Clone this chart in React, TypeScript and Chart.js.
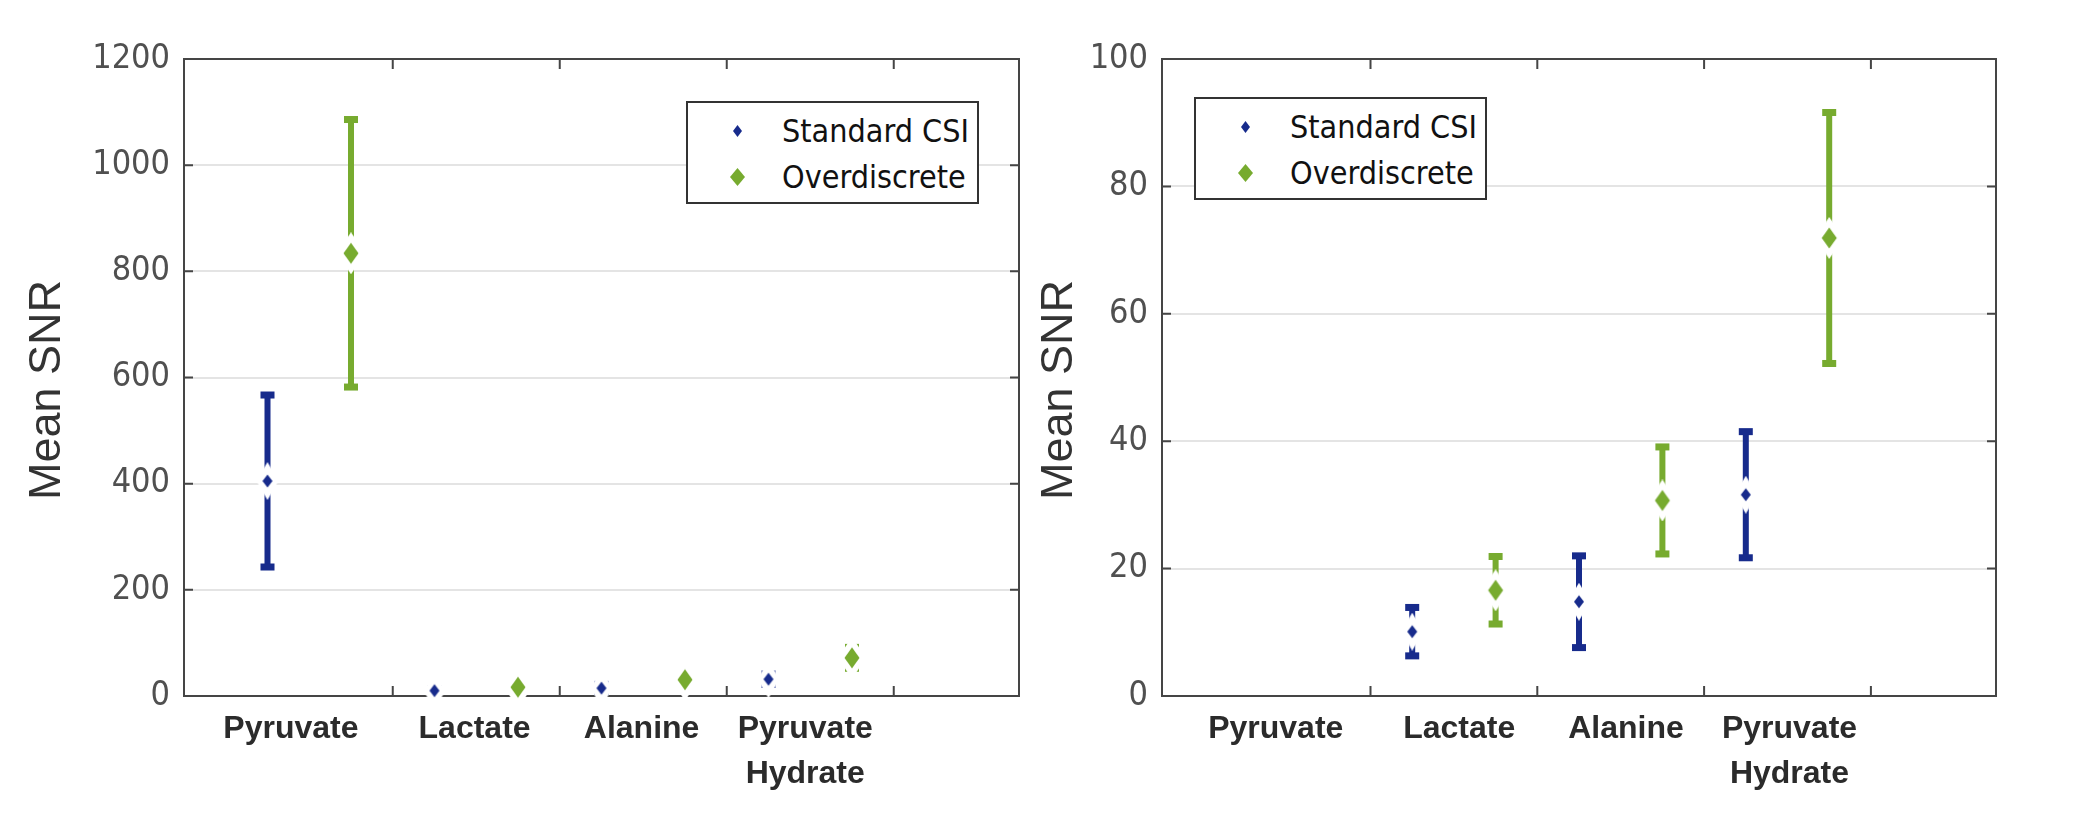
import React, { useEffect, useRef } from 'react';
import { Chart, registerables } from 'chart.js';

Chart.register(...registerables);

// ---------- data ----------
const CATEGORIES: string[][] = [['Pyruvate'], ['Lactate'], ['Alanine'], ['Pyruvate', 'Hydrate']];
const SERIES_NAMES = ['Standard CSI', 'Overdiscrete'];
const STD_X = [0.5, 1.5, 2.5, 3.5];
const STD_MEAN = [405, 10.1, 14.8, 31.6];
const STD_SD = [162, 3.8, 7.2, 9.9];
const OVD_X = [1, 2, 3, 4];
const OVD_MEAN = [834, 16.6, 30.7, 71.9];
const OVD_SD = [252, 5.3, 8.4, 19.7];
const CATEGORY_TICKS = [1.25, 2.25, 3.25, 4.25];
const LABEL_X = [0.64, 1.74, 2.74, 3.72];
const LEFT_Y_TICKS = [0, 200, 400, 600, 800, 1000, 1200];
const RIGHT_Y_TICKS = [0, 20, 40, 60, 80, 100];

// ---------- style ----------
const BLUE = '#172b8c';
const GREEN = '#77ab2f';
const NARROW = "'DejaVu Sans Condensed', 'Liberation Sans Narrow', 'Liberation Sans', sans-serif";
const SANS = "'Liberation Sans', Arial, sans-serif";

function makeDiamond(inW: number, inH: number, haloW: number, haloH: number, color: string) {
  const c = document.createElement('canvas');
  c.width = haloW;
  c.height = haloH;
  const g = c.getContext('2d')!;
  const cx = haloW / 2;
  const cy = haloH / 2;
  g.fillStyle = '#ffffff';
  g.beginPath();
  g.moveTo(cx, 0);
  g.lineTo(haloW, cy);
  g.lineTo(cx, haloH);
  g.lineTo(0, cy);
  g.closePath();
  g.fill();
  g.fillStyle = color;
  g.beginPath();
  g.moveTo(cx, cy - inH / 2);
  g.lineTo(cx + inW / 2, cy);
  g.lineTo(cx, cy + inH / 2);
  g.lineTo(cx - inW / 2, cy);
  g.closePath();
  g.fill();
  return c;
}

const framePlugin = {
  id: 'frameTicks',
  beforeDatasetsDraw(chart: any) {
    const { ctx, chartArea: a, scales } = chart;
    const x = scales.x;
    const y = scales.y;
    ctx.save();
    ctx.strokeStyle = '#454545';
    ctx.lineWidth = 2;
    ctx.strokeRect(a.left, a.top, a.right - a.left, a.bottom - a.top);
    ctx.beginPath();
    y.ticks.forEach((t: any) => {
      const py = y.getPixelForValue(t.value);
      ctx.moveTo(a.left, py);
      ctx.lineTo(a.left + 9, py);
      ctx.moveTo(a.right, py);
      ctx.lineTo(a.right - 9, py);
    });
    CATEGORY_TICKS.forEach((v) => {
      const px = x.getPixelForValue(v);
      ctx.moveTo(px, a.bottom);
      ctx.lineTo(px, a.bottom - 10);
      ctx.moveTo(px, a.top);
      ctx.lineTo(px, a.top + 10);
    });
    ctx.stroke();
    ctx.restore();
  },
};

const errorBarPlugin = {
  id: 'errorBars',
  beforeDatasetsDraw(chart: any) {
    const { ctx, chartArea: a, scales } = chart;
    const x = scales.x;
    const y = scales.y;
    ctx.save();
    ctx.beginPath();
    ctx.rect(a.left, a.top, a.right - a.left, a.bottom - a.top + 30);
    ctx.clip();
    chart.data.datasets.forEach((ds: any) => {
      const sd: number[] = ds.sd;
      ds.data.forEach((p: any, i: number) => {
        const px = x.getPixelForValue(p.x);
        const yHi = y.getPixelForValue(p.y + sd[i]);
        const yLo = y.getPixelForValue(p.y - sd[i]);
        ctx.fillStyle = ds.errColor;
        ctx.fillRect(px - 3, yHi, 6, yLo - yHi);
        ctx.fillRect(px - 7, yHi - 3.5, 14, 7);
        ctx.fillRect(px - 7, yLo - 3.5, 14, 7);
      });
    });
    ctx.restore();
  },
};

function buildConfig(
  yTicks: number[],
  yWidth: number,
  rightPad: number,
  titleOffset: number,
  labelShift: number,
  imgs: any[]
) {
  return {
    type: 'scatter',
    data: {
      datasets: [
        {
          label: SERIES_NAMES[0],
          data: STD_X.map((x, i) => ({ x, y: STD_MEAN[i] })),
          sd: STD_SD,
          errColor: BLUE,
          pointStyle: imgs[0],
          pointRadius: 8,
          backgroundColor: BLUE,
          borderColor: BLUE,
          clip: { left: 0, top: 0, right: 0, bottom: 30 },
        },
        {
          label: SERIES_NAMES[1],
          data: OVD_X.map((x, i) => ({ x, y: OVD_MEAN[i] })),
          sd: OVD_SD,
          errColor: GREEN,
          pointStyle: imgs[1],
          pointRadius: 10,
          backgroundColor: GREEN,
          borderColor: GREEN,
          clip: { left: 0, top: 0, right: 0, bottom: 30 },
        },
      ],
    },
    options: {
      responsive: false,
      animation: false,
      devicePixelRatio: 1,
      layout: { padding: { top: 59, right: rightPad, left: 0, bottom: 0 } },
      plugins: { legend: { display: false }, tooltip: { enabled: false } },
      scales: {
        x: {
          type: 'linear',
          min: 0,
          max: 5,
          afterBuildTicks: (s: any) => {
            s.ticks = LABEL_X.map((v) => ({ value: v }));
          },
          afterFit: (s: any) => {
            s.height = 122;
          },
          grid: { display: false, drawTicks: false },
          border: { display: false },
          ticks: {
            autoSkip: false,
            maxRotation: 0,
            minRotation: 0,
            padding: 11,
            labelOffset: labelShift,
            color: '#2b2b2b',
            font: { family: SANS, size: 32, weight: 'bold', lineHeight: 1.4 },
            callback: (_v: any, i: number) => CATEGORIES[i],
          },
        },
        y: {
          type: 'linear',
          min: yTicks[0],
          max: yTicks[yTicks.length - 1],
          afterBuildTicks: (s: any) => {
            s.ticks = yTicks.map((v) => ({ value: v }));
          },
          afterFit: (s: any) => {
            s.width = yWidth;
          },
          grid: { color: '#e4e4e4', lineWidth: 2, drawTicks: false },
          border: { display: false },
          ticks: {
            padding: 14,
            color: '#505050',
            font: { family: NARROW, size: 34 },
            callback: (v: any) => String(v),
          },
          title: {
            display: true,
            text: 'Mean SNR  ',
            color: '#333333',
            font: { family: SANS, size: 45 },
            padding: { top: titleOffset, bottom: 0 },
          },
        },
      },
    },
    plugins: [framePlugin, errorBarPlugin],
  } as any;
}

function LegendMarker({ w, h, color, cx, cy }: { w: number; h: number; color: string; cx: number; cy: number }) {
  return (
    <svg
      width={w}
      height={h}
      style={{ position: 'absolute', left: cx - w / 2, top: cy - h / 2 }}
      viewBox={`0 0 ${w} ${h}`}
    >
      <polygon points={`${w / 2},0 ${w},${h / 2} ${w / 2},${h} 0,${h / 2}`} fill={color} />
    </svg>
  );
}

function Legend({ left, top }: { left: number; top: number }) {
  const rows = [
    { name: SERIES_NAMES[0], color: BLUE, w: 9, h: 12, y: 29 },
    { name: SERIES_NAMES[1], color: GREEN, w: 15, h: 18, y: 75 },
  ];
  return (
    <div
      style={{
        position: 'absolute',
        left,
        top,
        width: 293,
        height: 103,
        border: '2px solid #333',
        boxSizing: 'border-box',
        background: '#fff',
      }}
    >
      {rows.map((r) => (
        <React.Fragment key={r.name}>
          <LegendMarker w={r.w} h={r.h} color={r.color} cx={49} cy={r.y - 1} />
          <div
            style={{
              position: 'absolute',
              left: 94,
              top: r.y - 21,
              height: 40,
              lineHeight: '40px',
              fontFamily: NARROW,
              fontSize: 32,
              color: '#111',
              whiteSpace: 'nowrap',
            }}
          >
            {r.name}
          </div>
        </React.Fragment>
      ))}
    </div>
  );
}

export default function App() {
  const leftRef = useRef<HTMLCanvasElement>(null);
  const rightRef = useRef<HTMLCanvasElement>(null);

  useEffect(() => {
    const imgs = [makeDiamond(10, 13, 22, 38, BLUE), makeDiamond(15, 21, 28, 42, GREEN)];
    const c1 = new Chart(leftRef.current!, buildConfig(LEFT_Y_TICKS, 184, 11, 21, 0, imgs));
    const c2 = new Chart(rightRef.current!, buildConfig(RIGHT_Y_TICKS, 132, 102, 3, 7, imgs));
    return () => {
      c1.destroy();
      c2.destroy();
    };
  }, []);

  return (
    <div style={{ position: 'fixed', left: 0, top: 0, width: 2098, height: 818, background: '#fff', overflow: 'hidden' }}>
      <canvas
        ref={leftRef}
        width={1030}
        height={818}
        style={{ position: 'absolute', left: 0, top: 0, width: 1030, height: 818 }}
      />
      <canvas
        ref={rightRef}
        width={1068}
        height={818}
        style={{ position: 'absolute', left: 1030, top: 0, width: 1068, height: 818 }}
      />
      <Legend left={686} top={101} />
      <Legend left={1194} top={97} />
    </div>
  );
}
